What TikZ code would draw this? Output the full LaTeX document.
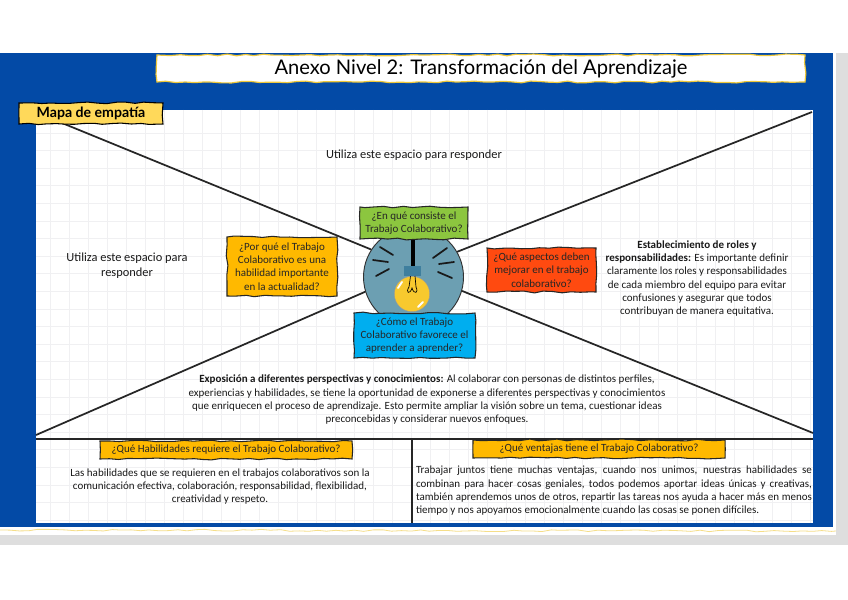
\documentclass[tikz,border=0pt]{standalone}
\usepackage{fontspec}
\setmainfont{Carlito}
\newfontfamily\titlefont{Lato}
\usepackage{tikz}
\usetikzlibrary{calc, positioning, decorations.pathmorphing}
\definecolor{pageblue}{HTML}{034AA6}
\definecolor{pagegrey}{HTML}{DEDEDE}
\definecolor{gridgrey}{HTML}{F0F0F2}
\definecolor{lampblue}{HTML}{6C9FB2}
\definecolor{capblue}{HTML}{3F7F9E}
\definecolor{bulbyellow}{HTML}{F8C92E}
\definecolor{edgeyellow}{HTML}{EFC83A}
\definecolor{tagyellow}{HTML}{FFD95A}
\definecolor{boxorange}{HTML}{FFB900}
\definecolor{boxgreen}{HTML}{8CC63F}
\definecolor{boxblue}{HTML}{00AEEF}
\definecolor{boxred}{HTML}{FF4A10}
\tikzset{
  wobble/.style={decorate, decoration={random steps, segment length=7pt, amplitude=0.7pt}},
  question/.style={draw=black!85, line width=0.8pt, wobble, align=center, inner sep=0pt, font=\fontsize{8.25}{10}\selectfont, text=black!85},
  answer/.style={align=center, inner sep=0pt, font=\fontsize{8.25}{10}\selectfont, text=black!90},
  divider/.style={line width=1.3pt, black!85},
  ray/.style={line width=1.3pt, black!90, line cap=round},
}
\begin{document}
\begin{tikzpicture}[x=0.75pt, y=-0.75pt]
    \useasboundingbox (0,0) rectangle (848,599);
    % Page and panel
    \fill[pagegrey] (0,53) rectangle (848,545);
    \fill[white] (0,53) rectangle (836,535);
    \draw[edgeyellow!60, line width=0.6pt, wobble] (0,530) -- (836,531);
    \fill[pageblue] (0,53) rectangle (833,527);
    \fill[white] (36,110) rectangle (813,523);
    % Grid
    \foreach \i in {0,...,40} {
      \draw[gridgrey, line width=0.5pt] ({50+\i*19}, 110) -- ({50+\i*19}, 523);
    }
    \foreach \i in {0,...,22} {
      \draw[gridgrey, line width=0.5pt] (36, {133+\i*17.6}) -- (813, {133+\i*17.6});
    }
    % Lamp
    \node[draw=black!80, line width=0.7pt, circle, fill=lampblue, minimum size=75pt, inner sep=0pt] (lamp) at (413.5, 277) {};
    % Corners of the map
    \coordinate (cornerTL) at (62, 123);
    \coordinate (cornerTR) at (812, 112);
    \coordinate (cornerBL) at (36, 435);
    \coordinate (cornerBR) at (813, 433);
    \coordinate (ruleL) at (36, 439);
    \coordinate (ruleR) at (813, 439);
    \coordinate (ruleT) at (412, 439);
    \coordinate (ruleB) at (412, 523);
    \draw[divider] (cornerTL) -- (lamp.147);
    \draw[divider] (cornerTR) -- (lamp.30);
    \draw[divider] (cornerBL) -- (lamp.197);
    \draw[divider] (cornerBR) -- (lamp.344);
    \draw[divider] (ruleL) -- (ruleR);
    \draw[divider] (ruleT) -- (ruleB);
    % Rays of the bulb
    \draw[ray] (380,247) -- (393,255);
    \draw[ray] (373,260) -- (388,262);
    \draw[ray] (376,276) -- (389,269);
    \draw[ray] (433,258) -- (447,248);
    \draw[ray] (439,264) -- (454,262);
    \draw[ray] (438,272) -- (452,278);
    % Bulb
    \draw[line width=2.6pt, black] (413,238) -- (413,267);
    \node[draw=black!40, line width=0.3pt, circle, fill=bulbyellow, minimum size=26.5pt, inner sep=0pt] (bulb) at (412, 294) {};
    \node[fill=capblue, minimum width=13pt, minimum height=7.5pt, inner sep=0pt] (cap) at (412.5, 271) {};
    \draw[black, line width=0.5pt] (cap.south) ++(-2,0) -- (409,287) .. controls (405,293) and (410,295) .. (412,288) .. controls (414,295) and (419,293) .. (416,287) -- (415,276);
    \draw[white, line width=1.4pt, line cap=round] (402,282) -- (398,288);
    \draw[white, line width=1.4pt, line cap=round] (423,302) -- (418,307);
    % Questions
    \node[question, fill=boxgreen, minimum width=81pt, minimum height=24pt] (qconsiste) at (414, 223) {\raisebox{-0.7pt}{¿En qué consiste el}\\\raisebox{-0.7pt}{Trabajo Colaborativo?}};
    \node[question, fill=boxorange, minimum width=82.5pt, minimum height=44.25pt] (qporque) at (282, 266.5) {¿Por qué el Trabajo\\Colaborativo es una\\habilidad importante\\en la actualidad?};
    \node[question, fill=boxblue, minimum width=90.75pt, minimum height=33.75pt] (qcomo) at (414.5, 335.5) {¿Cómo el Trabajo\\Colaborativo favorece el\\aprender a aprender?};
    \node[question, fill=boxred, minimum width=81.75pt, minimum height=33pt] (qaspectos) at (541.5, 270) {¿Qué aspectos deben\\mejorar en el trabajo\\colaborativo?};
    \node[question, fill=boxorange, minimum width=189pt, minimum height=13.5pt] (qhabilidades) at (226, 450) {¿Qué Habilidades requiere el Trabajo Colaborativo?};
    \node[question, fill=boxorange, minimum width=189pt, minimum height=13.5pt] (qventajas) at (599, 449) {¿Qué ventajas tiene el Trabajo Colaborativo?};
    % Title and tag
    \node[draw=edgeyellow, line width=0.9pt, wobble, fill=white, minimum width=486pt, minimum height=20.25pt, inner sep=0pt, font=\titlefont\fontsize{15.1}{16}\selectfont] (title) at (481, 68.5) {\raisebox{-1.5pt}{Anexo Nivel 2: Transformación del Aprendizaje}};
    \node[draw=black, line width=0.8pt, wobble, fill=tagyellow, minimum width=108pt, minimum height=15.75pt, inner sep=0pt, font=\titlefont\bfseries\fontsize{10.6}{12}\selectfont] (tag) at (91, 113.5) {\raisebox{-1.2pt}{Mapa de empatía}};
    % Answers
    \node[answer, font=\fontsize{9.3}{11}\selectfont] (top) at (414, 155.5) {Utiliza este espacio para responder};
    \node[answer, font=\fontsize{9.3}{11.5}\selectfont] (left) at (127, 265.5) {Utiliza este espacio para\\responder};
    \node[answer] (right) at (697, 278.5) {\textbf{Establecimiento de roles y}\\\textbf{responsabilidades:} Es importante definir\\claramente los roles y responsabilidades\\de cada miembro del equipo para evitar\\confusiones y asegurar que todos\\contribuyan de manera equitativa.};
    \node[answer] (bottom) at (427, 400) {\textbf{Exposición a diferentes perspectivas y conocimientos:} Al colaborar con personas de distintos perfiles,\\experiencias y habilidades, se tiene la oportunidad de exponerse a diferentes perspectivas y conocimientos\\que enriquecen el proceso de aprendizaje. Esto permite ampliar la visión sobre un tema, cuestionar ideas\\preconcebidas y considerar nuevos enfoques.};
    \node[answer] (skills) at (220, 486.5) {Las habilidades que se requieren en el trabajos colaborativos son la\\comunicación efectiva, colaboración, responsabilidad, flexibilidad,\\creatividad y respeto.};
    \node[answer, align=justify, text width=297pt] (benefits) at (614, 491) {Trabajar juntos tiene muchas ventajas, cuando nos unimos, nuestras habilidades se\linebreak combinan para hacer cosas geniales, todos podemos aportar ideas únicas y creativas,\linebreak también aprendemos unos de otros, repartir las tareas nos ayuda a hacer más en menos\linebreak tiempo y nos apoyamos emocionalmente cuando las cosas se ponen difíciles.};
\end{tikzpicture}
\end{document}
